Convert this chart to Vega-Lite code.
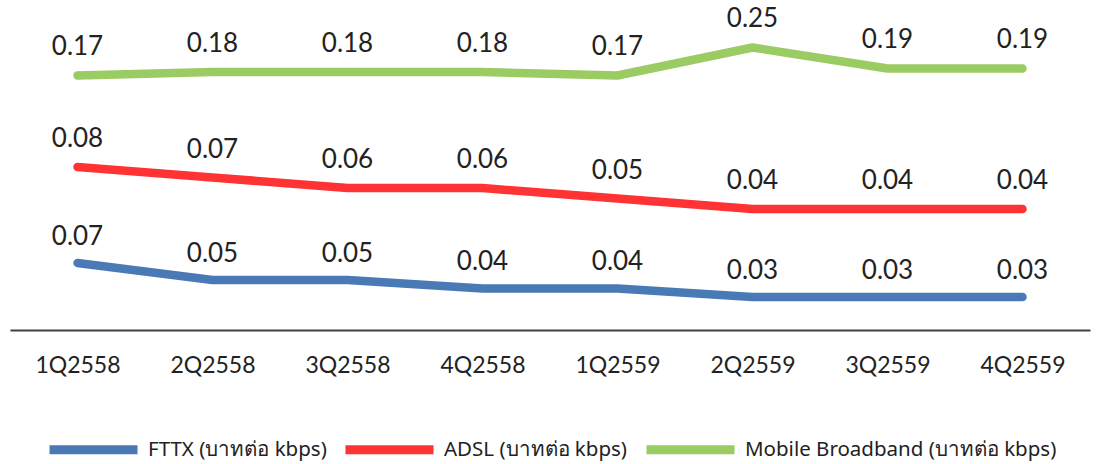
{
  "$schema": "https://vega.github.io/schema/vega-lite/v6.json",
  "width": 1080,
  "height": 330,
  "autosize": {"type": "none"},
  "padding": {"left": 10, "top": 0, "right": 11, "bottom": 134},
  "background": "white",
  "config": {"view": {"stroke": null}},
  "data": {
    "values": [
      {"quarter": "1Q2558", "series": "FTTX (บาทต่อ kbps)", "value": 0.07},
      {"quarter": "2Q2558", "series": "FTTX (บาทต่อ kbps)", "value": 0.05},
      {"quarter": "3Q2558", "series": "FTTX (บาทต่อ kbps)", "value": 0.05},
      {"quarter": "4Q2558", "series": "FTTX (บาทต่อ kbps)", "value": 0.04},
      {"quarter": "1Q2559", "series": "FTTX (บาทต่อ kbps)", "value": 0.04},
      {"quarter": "2Q2559", "series": "FTTX (บาทต่อ kbps)", "value": 0.03},
      {"quarter": "3Q2559", "series": "FTTX (บาทต่อ kbps)", "value": 0.03},
      {"quarter": "4Q2559", "series": "FTTX (บาทต่อ kbps)", "value": 0.03},
      {"quarter": "1Q2558", "series": "ADSL (บาทต่อ kbps)", "value": 0.08},
      {"quarter": "2Q2558", "series": "ADSL (บาทต่อ kbps)", "value": 0.07},
      {"quarter": "3Q2558", "series": "ADSL (บาทต่อ kbps)", "value": 0.06},
      {"quarter": "4Q2558", "series": "ADSL (บาทต่อ kbps)", "value": 0.06},
      {"quarter": "1Q2559", "series": "ADSL (บาทต่อ kbps)", "value": 0.05},
      {"quarter": "2Q2559", "series": "ADSL (บาทต่อ kbps)", "value": 0.04},
      {"quarter": "3Q2559", "series": "ADSL (บาทต่อ kbps)", "value": 0.04},
      {"quarter": "4Q2559", "series": "ADSL (บาทต่อ kbps)", "value": 0.04},
      {"quarter": "1Q2558", "series": "Mobile Broadband (บาทต่อ kbps)", "value": 0.17},
      {"quarter": "2Q2558", "series": "Mobile Broadband (บาทต่อ kbps)", "value": 0.18},
      {"quarter": "3Q2558", "series": "Mobile Broadband (บาทต่อ kbps)", "value": 0.18},
      {"quarter": "4Q2558", "series": "Mobile Broadband (บาทต่อ kbps)", "value": 0.18},
      {"quarter": "1Q2559", "series": "Mobile Broadband (บาทต่อ kbps)", "value": 0.17},
      {"quarter": "2Q2559", "series": "Mobile Broadband (บาทต่อ kbps)", "value": 0.25},
      {"quarter": "3Q2559", "series": "Mobile Broadband (บาทต่อ kbps)", "value": 0.19},
      {"quarter": "4Q2559", "series": "Mobile Broadband (บาทต่อ kbps)", "value": 0.19}
    ]
  },
  "encoding": {
    "x": {
      "field": "quarter",
      "type": "ordinal",
      "sort": null,
      "title": null,
      "scale": {"type": "point", "padding": 0.5},
      "axis": {
        "domainColor": "#404040",
        "domainWidth": 2,
        "ticks": false,
        "grid": false,
        "labelAngle": 0,
        "labelFont": "Lato",
        "labelFontSize": 23,
        "labelColor": "#222222",
        "labelPadding": 24
      }
    }
  },
  "layer": [
    {
      "transform": [{"filter": "datum.series === 'FTTX (บาทต่อ kbps)'"}],
      "encoding": {
        "y": {
          "field": "value",
          "type": "quantitative",
          "axis": null,
          "scale": {"domain": [-0.008824, 0.379412], "zero": false, "nice": false}
        }
      },
      "layer": [
        {
          "mark": {"type": "line", "strokeWidth": 8.5, "strokeCap": "round", "strokeJoin": "round"},
          "encoding": {
            "color": {
              "field": "series",
              "type": "nominal",
              "title": null,
              "scale": {
                "domain": ["FTTX (บาทต่อ kbps)", "ADSL (บาทต่อ kbps)", "Mobile Broadband (บาทต่อ kbps)"],
                "range": ["#4a7ab5", "#ff3333", "#9bcb63"]
              }
            }
          }
        },
        {
          "mark": {"type": "text", "dy": -26, "font": "Lato", "fontSize": 26, "color": "#222222"},
          "encoding": {"text": {"field": "value", "type": "quantitative", "format": ".2f"}}
        }
      ]
    },
    {
      "transform": [{"filter": "datum.series === 'ADSL (บาทต่อ kbps)'"}],
      "encoding": {
        "y": {
          "field": "value",
          "type": "quantitative",
          "axis": null,
          "scale": {"domain": [-0.075238, 0.239048], "zero": false, "nice": false}
        }
      },
      "layer": [
        {
          "mark": {"type": "line", "strokeWidth": 8.5, "strokeCap": "round", "strokeJoin": "round"},
          "encoding": {
            "color": {
              "field": "series",
              "type": "nominal",
              "title": null,
              "scale": {
                "domain": ["FTTX (บาทต่อ kbps)", "ADSL (บาทต่อ kbps)", "Mobile Broadband (บาทต่อ kbps)"],
                "range": ["#4a7ab5", "#ff3333", "#9bcb63"]
              }
            }
          }
        },
        {
          "mark": {"type": "text", "dy": -28, "font": "Lato", "fontSize": 26, "color": "#222222"},
          "encoding": {"text": {"field": "value", "type": "quantitative", "format": ".2f"}}
        }
      ]
    },
    {
      "transform": [{"filter": "datum.series === 'Mobile Broadband (บาทต่อ kbps)'"}],
      "encoding": {
        "y": {
          "field": "value",
          "type": "quantitative",
          "axis": null,
          "scale": {"domain": [-0.557143, 0.385714], "zero": false, "nice": false}
        }
      },
      "layer": [
        {
          "mark": {"type": "line", "strokeWidth": 8.5, "strokeCap": "round", "strokeJoin": "round"},
          "encoding": {
            "color": {
              "field": "series",
              "type": "nominal",
              "title": null,
              "scale": {
                "domain": ["FTTX (บาทต่อ kbps)", "ADSL (บาทต่อ kbps)", "Mobile Broadband (บาทต่อ kbps)"],
                "range": ["#4a7ab5", "#ff3333", "#9bcb63"]
              },
              "legend": {
                "orient": "none",
                "legendX": 35,
                "legendY": 401,
                "direction": "horizontal",
                "symbolType": "stroke",
                "symbolSize": 7744,
                "symbolStrokeWidth": 9,
                "labelFont": "Noto Sans",
                "labelFontSize": 20.5,
                "labelColor": "#222222",
                "labelLimit": 500,
                "labelOffset": 6,
                "columnPadding": 0
              }
            }
          }
        },
        {
          "mark": {"type": "text", "dy": -28, "font": "Lato", "fontSize": 26, "color": "#222222"},
          "encoding": {"text": {"field": "value", "type": "quantitative", "format": ".2f"}}
        }
      ]
    }
  ],
  "resolve": {"scale": {"y": "independent"}}
}
